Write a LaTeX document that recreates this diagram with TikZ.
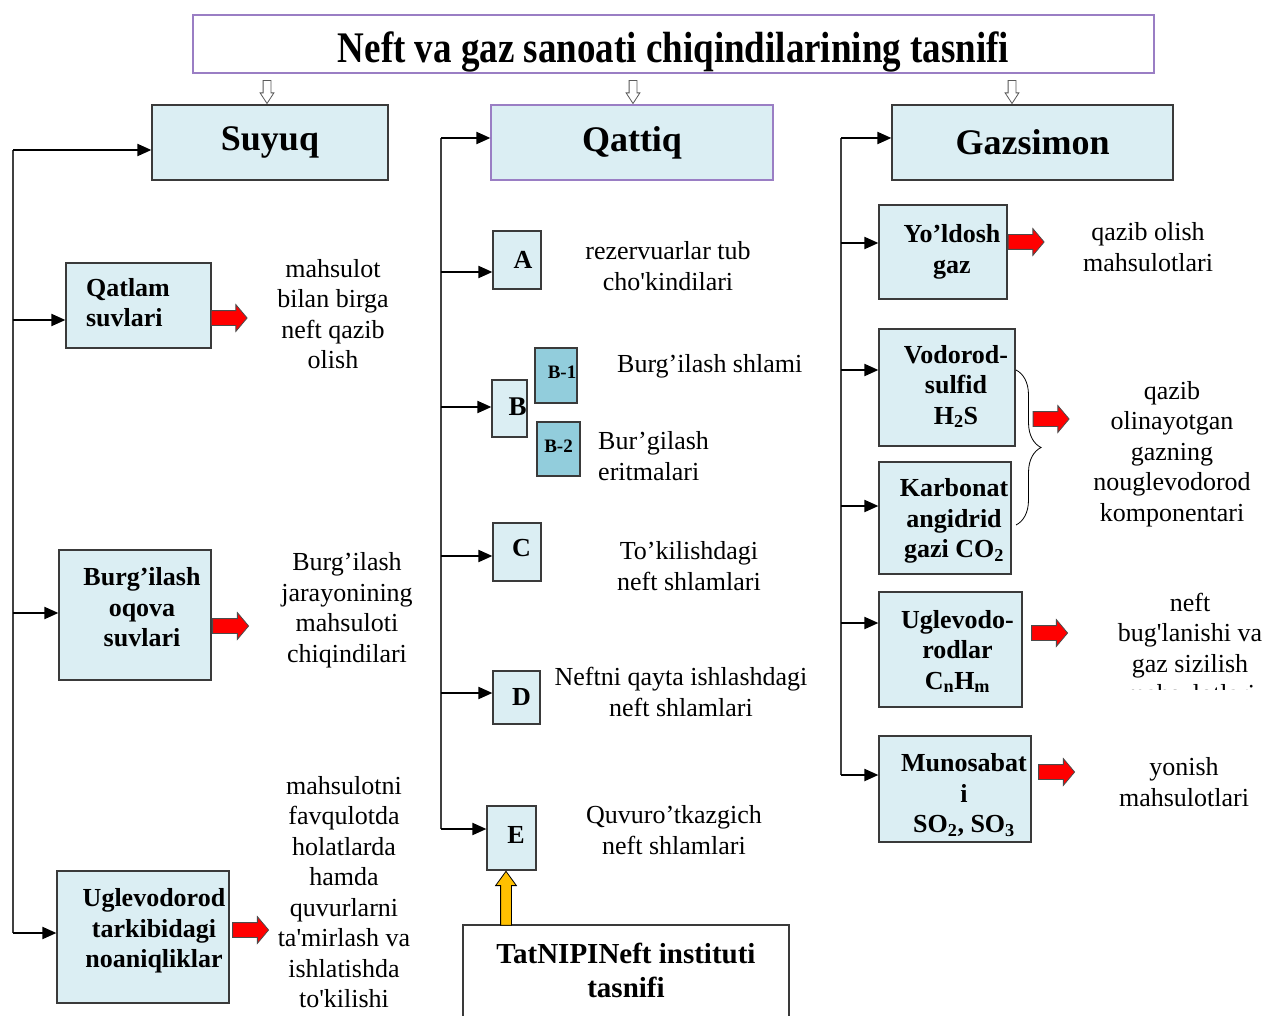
\documentclass[tikz,border=0pt]{standalone}
\usepackage{fontspec}
\usepackage{graphicx}
\setmainfont{Liberation Serif}
\usetikzlibrary{arrows.meta,shapes.arrows,decorations.pathreplacing}
\definecolor{boxfill}{HTML}{DBEEF3}
\definecolor{boxdark}{HTML}{92CDDC}
\definecolor{boxline}{HTML}{3A3A3A}
\definecolor{purp}{HTML}{9A7EC4}
\definecolor{arrred}{HTML}{FF0000}
\definecolor{arryel}{HTML}{FFC000}
\newcommand{\shiftlbl}[3]{\hspace*{#1}\raisebox{#2}[\height][\depth]{\begin{tabular}{@{}c@{}}#3\end{tabular}}}
\newcommand{\upby}[2]{\raisebox{#1}[\height][\depth]{#2}}
\begin{document}
\begin{tikzpicture}[x=1pt,y=-1pt,
  txt/.style={font=\fontsize{26}{30.5}\selectfont, align=center, inner sep=0},
  box/.style={draw=boxline, fill=boxfill, line width=1.2pt, inner sep=0, font=\fontsize{26}{30.5}\selectfont\bfseries, align=center},
  bigbox/.style={box, font=\fontsize{36}{40}\selectfont\bfseries},
  subbox/.style={box, fill=boxdark, font=\fontsize{19}{22}\selectfont\bfseries},
  conn/.style={line width=2pt, -{Triangle[length=14pt,width=12pt]}},
  bus/.style={line width=2pt, draw=black!75},
  redarrow/.style={single arrow, draw=black!70, line width=0.8pt, fill=arrred, inner sep=7pt, minimum height=36pt, single arrow head extend=6pt, single arrow tip angle=100},
  hollowarrow/.style={single arrow, draw=black!65, line width=0.8pt, fill=white, inner sep=3.5pt, minimum height=23pt, single arrow head extend=3pt, single arrow tip angle=66, shape border rotate=270},
  yelarrow/.style={single arrow, draw=black, line width=0.8pt, fill=arryel, inner sep=5pt, minimum height=54pt, single arrow head extend=5pt, single arrow tip angle=72, shape border rotate=90}
]
\useasboundingbox[fill=white] (0,0) rectangle (1266,1016);

% title
\node[draw=purp, line width=1.2pt, minimum width=961pt, minimum height=58pt, inner sep=0] (title) at (673.5,44) {};
\begin{scope}
\clip (title.south west) rectangle (title.north east);
\node[anchor=base, inner sep=0, font=\fontsize{37}{40}\selectfont\bfseries] (titletext) at (673.5,63) {\scalebox{1}[1.18]{Neft va gaz sanoati chiqindilarining tasnifi}};
\end{scope}

\node[hollowarrow] (da1) at (267,89) {};
\node[hollowarrow] (da2) at (633,89) {};
\node[hollowarrow] (da3) at (1012,89) {};

% category boxes
\node[bigbox, minimum width=236pt, minimum height=75pt] (suyuq) at (270,142.5) {Suyuq};
\node[bigbox, draw=purp, minimum width=282pt, minimum height=75pt] (qattiq) at (632,142.5) {Qattiq};
\node[bigbox, minimum width=281pt, minimum height=75pt] (gaz) at (1032.5,142.5) {Gazsimon};

% left column
\node[box, minimum width=145pt, minimum height=85pt] (qatlam) at (138.5,305.5) {\begin{tabular}{@{}l@{}}Qatlam\\suvlari\end{tabular}\hspace*{21pt}};
\node[box, minimum width=152pt, minimum height=130pt] (burg) at (135,615) {\shiftlbl{14pt}{5pt}{Burg’ilash\\oqova\\suvlari}};
\node[box, minimum width=172pt, minimum height=132pt] (ugl) at (143,937) {\shiftlbl{22pt}{6pt}{Uglevodorod\\tarkibidagi\\noaniqliklar}};

\node[redarrow] (ra1) at (226,318) {};
\node[redarrow] (ra2) at (227.5,626) {};
\node[redarrow] (ra3) at (247.5,930) {};

\node[txt] (t1) at (333,314) {mahsulot\\bilan birga\\neft qazib\\olish};
\node[txt] (t2) at (347,610) {Burg’ilash\\jarayonining\\mahsuloti\\chiqindilari};
\node[txt] (t3) at (344,892) {mahsulotni\\favqulotda\\holatlarda\\hamda\\quvurlarni\\ta\textquotesingle mirlash va\\ishlatishda\\to\textquotesingle kilishi};

\coordinate (L0) at (13,150);
\coordinate (L1) at (13,320);
\coordinate (L2) at (13,613);
\coordinate (L3) at (13,933);
\draw[bus] (L0) -- (L3);
\draw[conn] (L0) -- (L0 -| suyuq.west);
\draw[conn] (L1) -- (L1 -| qatlam.west);
\draw[conn] (L2) -- (L2 -| burg.west);
\draw[conn] (L3) -- (L3 -| ugl.west);

% middle column
\node[box, minimum width=48pt, minimum height=58pt] (A) at (517,260) {\hspace*{12pt}A};
\node[box, minimum width=35pt, minimum height=57pt, font=\fontsize{27}{30}\selectfont\bfseries] (B) at (509.5,408.5) {\hspace*{16pt}\upby{2pt}{B}};
\node[subbox, minimum width=42pt, minimum height=55pt] (B1) at (556,375.5) {\hspace*{12pt}\upby{3pt}{B-1}};
\node[subbox, minimum width=43pt, minimum height=54pt] (B2) at (558.5,449) {\upby{3pt}{B-2}};
\node[box, minimum width=48pt, minimum height=58pt] (C) at (517,552) {\hspace*{9pt}\upby{4pt}{C}};
\node[box, minimum width=47pt, minimum height=53pt] (D) at (516.5,697.5) {\hspace*{10pt}D};
\node[box, minimum width=49pt, minimum height=64pt] (E) at (511.5,838) {\hspace*{9pt}\upby{3pt}{E}};

\node[txt] (t4) at (668,266) {rezervuarlar tub\\cho\textquotesingle kindilari};
\node[txt, anchor=west] (t5) at (617,366) {Burg’ilash shlami};
\node[txt, anchor=west, align=left] (t6) at (598,456) {Bur’gilash\\eritmalari};
\node[txt] (t7) at (689,566) {To’kilishdagi\\neft shlamlari};
\node[txt] (t8) at (681,692) {Neftni qayta ishlashdagi\\neft shlamlari};
\node[txt] (t9) at (674,830) {Quvuro’tkazgich\\neft shlamlari};

\coordinate (M0) at (441,138);
\coordinate (M1) at (441,272);
\coordinate (M2) at (441,407);
\coordinate (M3) at (441,556);
\coordinate (M4) at (441,693);
\coordinate (M5) at (441,829);
\draw[bus] (M0) -- (M5);
\draw[conn] (M0) -- (M0 -| qattiq.west);
\draw[conn] (M1) -- (M1 -| A.west);
\draw[conn] (M2) -- (M2 -| B.west);
\draw[conn] (M3) -- (M3 -| C.west);
\draw[conn] (M4) -- (M4 -| D.west);
\draw[conn] (M5) -- (M5 -| E.west);

\node[draw=boxline, fill=white, line width=1.2pt, minimum width=326pt, minimum height=110pt, inner sep=0] (tat) at (626,980) {};
\node[inner sep=0, align=center, font=\fontsize{29}{34}\selectfont\bfseries] (tattext) at (626,970) {TatNIPINeft instituti\\tasnifi};
\node[yelarrow] (ya) at (506,902) {};

% right column
\node[box, minimum width=128pt, minimum height=94pt] (yol) at (943,252) {\shiftlbl{18pt}{0pt}{Yo’ldosh\\gaz}};
\node[box, minimum width=136pt, minimum height=117pt] (vod) at (947,387.5) {\shiftlbl{18pt}{0pt}{Vodorod-\\sulfid\\H\textsubscript{2}S}};
\node[box, minimum width=132pt, minimum height=112pt] (kar) at (945,518) {\shiftlbl{18pt}{-3pt}{Karbonat\\angidrid\\gazi CO\textsubscript{2}}};
\node[box, minimum width=143pt, minimum height=115pt] (uglv) at (950.5,649.5) {\shiftlbl{14pt}{-3pt}{Uglevodo-\\rodlar\\C\textsubscript{n}H\textsubscript{m}}};
\node[box, minimum width=152pt, minimum height=106pt] (mun) at (955,789) {\shiftlbl{18pt}{-7pt}{Munosabat\\i\\SO\textsubscript{2}, SO\textsubscript{3}}};

\node[redarrow] (ra4) at (1023,242) {};
\node[redarrow] (ra5) at (1048,419) {};
\node[redarrow] (ra6) at (1046.5,633) {};
\node[redarrow] (ra7) at (1053.5,772) {};

\draw[decorate, decoration={brace, amplitude=25pt}, line width=0.8pt] (1016,370) -- (1016,525);

\node[txt] (t10) at (1148,247) {qazib olish\\mahsulotlari};
\node[txt] (t11) at (1172,454) {qazib\\olinayotgan\\gazning\\nouglevodorod\\komponentari};
\begin{scope}
\clip (1060,570) rectangle (1266,689);
\node[txt] (t12) at (1190,648) {neft\\bug\textquotesingle lanishi va\\gaz sizilish\\mahsulotlari};
\end{scope}
\node[txt] (t13) at (1184,782) {yonish\\mahsulotlari};

\coordinate (R0) at (841,138);
\coordinate (R1) at (841,243);
\coordinate (R2) at (841,370);
\coordinate (R3) at (841,506);
\coordinate (R4) at (841,623);
\coordinate (R5) at (841,775);
\draw[bus] (R0) -- (R5);
\draw[conn] (R0) -- (R0 -| gaz.west);
\draw[conn] (R1) -- (R1 -| yol.west);
\draw[conn] (R2) -- (R2 -| vod.west);
\draw[conn] (R3) -- (R3 -| kar.west);
\draw[conn] (R4) -- (R4 -| uglv.west);
\draw[conn] (R5) -- (R5 -| mun.west);
\end{tikzpicture}
\end{document}
